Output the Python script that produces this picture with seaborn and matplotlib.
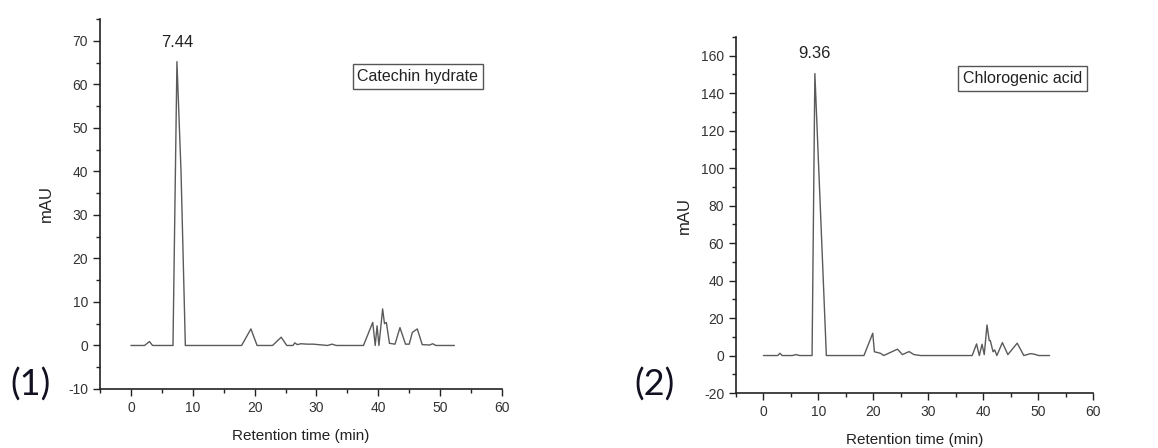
import matplotlib
matplotlib.use("Agg")
import matplotlib.pyplot as plt
import seaborn as sns
import pandas as pd
from matplotlib.ticker import MultipleLocator

# ---- Data: panel (1) Catechin hydrate ----
time1 = [0.0, 2.2, 3.0, 3.5, 6.8, 7.44, 8.1, 8.8, 17.9, 19.4, 20.4, 22.9, 24.3, 25.2,
         26.2, 26.5, 26.9, 27.5, 28.5, 29.5, 31.8, 32.5, 33.2, 37.6, 39.1, 39.5, 39.8,
         40.1, 40.7, 41.0, 41.3, 41.8, 42.7, 43.5, 44.4, 45.0, 45.5, 46.3, 47.1, 48.3,
         48.8, 49.3, 52.3]
mau1 = [0.0, 0.0, 0.9, 0.0, 0.0, 65.2, 40.0, 0.0, 0.0, 3.8, 0.0, 0.0, 1.9, 0.0,
        0.0, 0.6, 0.2, 0.4, 0.3, 0.3, 0.0, 0.3, 0.0, 0.0, 5.3, 0.0, 4.5,
        0.0, 8.4, 5.0, 5.3, 0.5, 0.3, 4.1, 0.3, 0.3, 3.0, 3.8, 0.2, 0.1,
        0.4, 0.0, 0.0]

# ---- Data: panel (2) Chlorogenic acid ----
time2 = [0.0, 2.6, 3.0, 3.4, 5.3, 5.9, 6.6, 8.85, 9.36, 11.45, 18.3, 19.9, 20.2, 21.3,
         21.9, 23.0, 24.4, 25.3, 26.5, 27.4, 28.6, 38.0, 38.8, 39.3, 39.8, 40.2, 40.7,
         41.1, 41.3, 41.8, 42.1, 42.5, 43.5, 44.5, 45.2, 46.2, 47.4, 48.6, 49.2, 50.1,
         52.1]
mau2 = [0.0, 0.0, 1.2, 0.0, 0.0, 0.5, 0.0, 0.0, 150.5, 0.0, 0.0, 11.9, 2.0, 1.2,
        0.0, 1.5, 3.4, 0.5, 2.1, 0.5, 0.0, 0.0, 6.2, 0.0, 6.0, 0.5, 16.3,
        8.0, 8.0, 2.0, 3.0, 0.0, 6.9, 0.5, 3.0, 6.6, 0.0, 1.0, 0.8, 0.0,
        0.0]

labels = ["Catechin hydrate", "Chlorogenic acid"]
peak_labels = ["7.44", "9.36"]
panel_tags = ["(1)", "(2)"]
xticks = [0, 10, 20, 30, 40, 50, 60]
yticks1 = [-10, 0, 10, 20, 30, 40, 50, 60, 70]
yticks2 = [-20, 0, 20, 40, 60, 80, 100, 120, 140, 160]

sns.set_style("ticks")
plt.rcParams['font.family'] = ['Liberation Sans', 'DejaVu Sans']
plt.rcParams['axes.unicode_minus'] = False

fig = plt.figure(figsize=(11.58, 4.48), dpi=100)
fig.patch.set_facecolor("white")

ax1 = fig.add_axes([100/1158, 1-389/448, 402/1158, 370/448])
ax2 = fig.add_axes([736/1158, 1-393/448, 357/1158, 356/448])

line_color = "#5a5a5a"
df1 = pd.DataFrame({"t": time1, "y": mau1})
df2 = pd.DataFrame({"t": time2, "y": mau2})
sns.lineplot(data=df1, x="t", y="y", ax=ax1, color=line_color, linewidth=1.0)
sns.lineplot(data=df2, x="t", y="y", ax=ax2, color=line_color, linewidth=1.0)

setups = [
    (ax1, yticks1, (-10, 75), 5, (7.44, 67.8), (46.4, 61.8), -0.115),
    (ax2, yticks2, (-20, 170), 10, (9.36, 157), (47.1, 148), -0.124),
]
for i, (ax, yt, ylim, ymin, peakpos, boxpos, ylx) in enumerate(setups):
    ax.set_xlim(-5, 60)
    ax.set_ylim(*ylim)
    ax.set_xticks(xticks)
    ax.set_yticks(yt)
    ax.xaxis.set_minor_locator(MultipleLocator(5))
    ax.yaxis.set_minor_locator(MultipleLocator(ymin))
    ax.tick_params(axis="both", which="major", direction="out", length=5, width=1,
                   labelsize=10, colors="#222222", labelcolor="#333333")
    ax.tick_params(axis="both", which="minor", direction="out", length=3, width=1,
                   colors="#222222")
    for s in ["top", "right"]:
        ax.spines[s].set_visible(False)
    for s in ["left", "bottom"]:
        ax.spines[s].set_color("#222222")
        ax.spines[s].set_linewidth(1.2)
    ax.set_xlabel("Retention time (min)", fontsize=11, color="#222222", labelpad=10)
    ax.set_ylabel("mAU", fontsize=12, color="#222222")
    ax.yaxis.set_label_coords(ylx, 0.5)
    ax.set_facecolor("white")
    ax.text(peakpos[0], peakpos[1], peak_labels[i], ha="center", va="bottom",
            fontsize=12, color="#222222")
    ax.text(boxpos[0], boxpos[1], labels[i], ha="center", va="center", fontsize=11.5,
            color="#222222",
            bbox=dict(boxstyle="square,pad=0.3", facecolor="white",
                      edgecolor="#555555", linewidth=1.0))

fig.text(31/1158, 1-385/448, panel_tags[0], fontsize=26, ha="center", va="center",
         family=["Lato", "DejaVu Sans"], color="#111122")
fig.text(654/1158, 1-385/448, panel_tags[1], fontsize=26, ha="center", va="center",
         family=["Lato", "DejaVu Sans"], color="#111122")

fig.savefig("out.png", dpi=100, facecolor="white")
